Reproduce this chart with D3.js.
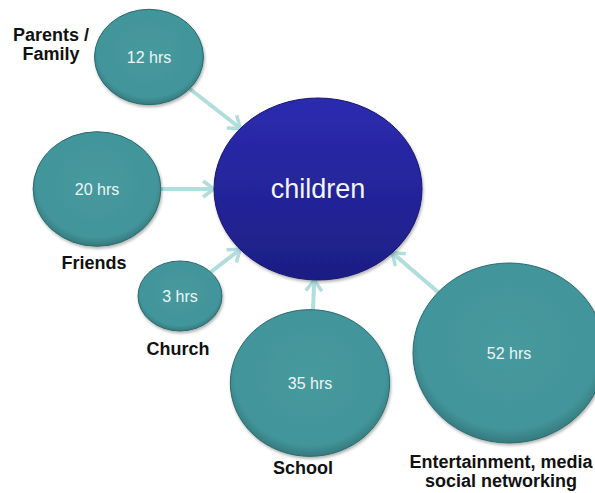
<!DOCTYPE html>
<html>
<head>
<meta charset="utf-8">
<script src="https://cdn.jsdelivr.net/npm/d3@7"></script>
<style>
  body { margin: 0; background: #fff; }
  svg { display: block; font-family: Arial, "Liberation Sans", sans-serif; }
</style>
</head>
<body>
<script>
// data
const hubLabel = "children"
const categories = ["Parents / Family", "Friends", "Church", "School", "Entertainment, media social networking"]
const labelLines = [["Parents /", "Family"], ["Friends"], ["Church"], ["School"], ["Entertainment, media", "social networking"]]
const hours = [12, 20, 3, 35, 52]

// layout (node centres and label anchors, px)
const hub = { x: 318, y: 189, rx: 104, ry: 91 }
const layout = [
  { x: 149, y: 57, lx: 51, ly: 41 },
  { x: 97, y: 189, lx: 94, ly: 269 },
  { x: 180, y: 296, lx: 178, ly: 355 },
  { x: 310, y: 383, lx: 303, ly: 474 },
  { x: 509, y: 353, lx: 501, ly: 468 }
]

const w = 595
const h = 493

const nodes = categories.map((c, i) => ({
  name: c,
  lines: labelLines[i],
  hours: hours[i],
  x: layout[i].x,
  y: layout[i].y,
  lx: layout[i].lx,
  ly: layout[i].ly
}))

// bubble size grows with hours
const rxScale = d3.scalePow().exponent(0.8).domain([3, 52]).range([42, 96])
const ryScale = d3.scalePow().exponent(0.8).domain([3, 52]).range([35, 90])

const svg = d3.select("body").append("svg")
  .attr("width", w)
  .attr("height", h)

const defs = svg.append("defs")

const tealGrad = defs.append("radialGradient").attr("id", "teal")
  .attr("cx", "50%").attr("cy", "45%").attr("r", "55%")
tealGrad.append("stop").attr("offset", "0%").attr("stop-color", "#46999d")
tealGrad.append("stop").attr("offset", "86%").attr("stop-color", "#42959a")
tealGrad.append("stop").attr("offset", "100%").attr("stop-color", "#357a7e")

const blueGrad = defs.append("linearGradient").attr("id", "blue")
  .attr("x1", 0).attr("y1", 0).attr("x2", 0).attr("y2", 1)
blueGrad.append("stop").attr("offset", "0%").attr("stop-color", "#2c2bb0")
blueGrad.append("stop").attr("offset", "100%").attr("stop-color", "#1d1e85")

const shadow = defs.append("filter").attr("id", "shadow")
  .attr("x", "-20%").attr("y", "-20%").attr("width", "140%").attr("height", "140%")
shadow.append("feDropShadow")
  .attr("dx", 1).attr("dy", 2).attr("stdDeviation", 1.5)
  .attr("flood-color", "#000").attr("flood-opacity", 0.3)

defs.append("marker")
  .attr("id", "head")
  .attr("markerUnits", "userSpaceOnUse")
  .attr("viewBox", "0 0 18 20")
  .attr("markerWidth", 18).attr("markerHeight", 20)
  .attr("refX", 13).attr("refY", 10)
  .attr("orient", "auto")
  .append("path")
  .attr("d", "M3,2 L14,10 L3,18")
  .attr("fill", "none")
  .attr("stroke", "#b2dddd")
  .attr("stroke-width", 3.5)
  .attr("stroke-linejoin", "miter")

// distance from an ellipse centre to its rim along unit vector (ux, uy)
const rim = (rx, ry, ux, uy) => 1 / Math.sqrt((ux / rx) ** 2 + (uy / ry) ** 2)

const arrows = nodes.map(d => {
  const dx = hub.x - d.x
  const dy = hub.y - d.y
  const len = Math.sqrt(dx * dx + dy * dy)
  const ux = dx / len
  const uy = dy / len
  const s = rim(rxScale(d.hours), ryScale(d.hours), ux, uy)
  const e = rim(hub.rx, hub.ry, -ux, -uy) + 1
  return {
    x1: d.x + ux * s,
    y1: d.y + uy * s,
    x2: hub.x - ux * e,
    y2: hub.y - uy * e
  }
})

svg.selectAll(".arrow")
  .data(arrows)
  .enter()
  .append("line")
  .attr("class", "arrow")
  .attr("x1", d => d.x1)
  .attr("y1", d => d.y1)
  .attr("x2", d => d.x2)
  .attr("y2", d => d.y2)
  .attr("stroke", "#b2dddd")
  .attr("stroke-width", 4)
  .attr("marker-end", "url(#head)")

// hub
svg.append("ellipse")
  .attr("cx", hub.x)
  .attr("cy", hub.y)
  .attr("rx", hub.rx)
  .attr("ry", hub.ry)
  .attr("fill", "url(#blue)")
  .attr("stroke", "#16166a")
  .attr("stroke-width", 1)
  .attr("filter", "url(#shadow)")

svg.append("text")
  .attr("x", hub.x)
  .attr("y", hub.y)
  .attr("dy", "0.35em")
  .attr("text-anchor", "middle")
  .style("font-size", "27px")
  .style("fill", "#f4f4fb")
  .text(hubLabel)

// bubbles
const g = svg.selectAll(".node")
  .data(nodes)
  .enter()
  .append("g")
  .attr("class", "node")

g.append("ellipse")
  .attr("cx", d => d.x)
  .attr("cy", d => d.y)
  .attr("rx", d => rxScale(d.hours))
  .attr("ry", d => ryScale(d.hours))
  .attr("fill", "url(#teal)")
  .attr("stroke", "#2c6a6e")
  .attr("stroke-width", 1)
  .attr("filter", "url(#shadow)")

g.append("text")
  .attr("x", d => d.x)
  .attr("y", d => d.y)
  .attr("dy", "0.35em")
  .attr("text-anchor", "middle")
  .style("font-size", "16px")
  .style("fill", "#eef6f6")
  .text(d => d.hours + " hrs")

g.append("text")
  .attr("text-anchor", "middle")
  .style("font-size", "18px")
  .style("font-weight", "bold")
  .style("fill", "#111")
  .selectAll("tspan")
  .data(d => d.lines.map((t, i) => ({ t: t, x: d.lx, y: d.ly + i * 19 })))
  .enter()
  .append("tspan")
  .attr("x", d => d.x)
  .attr("y", d => d.y)
  .text(d => d.t)
</script>
</body>
</html>
